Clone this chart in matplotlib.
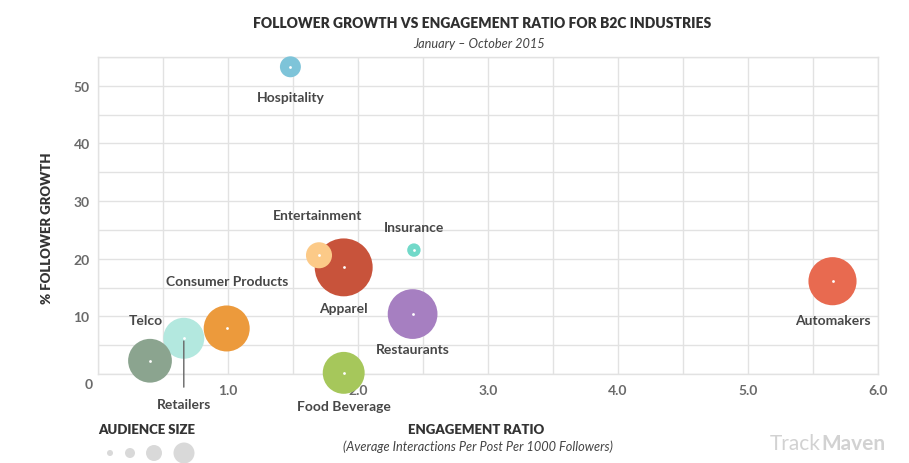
import matplotlib
matplotlib.use("Agg")
import matplotlib.pyplot as plt

plt.rcParams['font.family'] = ['Lato', 'DejaVu Sans']

# ---------------- data ----------------
industries = ["Hospitality", "Apparel", "Entertainment", "Insurance", "Consumer Products",
              "Restaurants", "Retailers", "Telco", "Food Beverage", "Automakers"]
engagement = [1.48, 1.89, 1.70, 2.43, 0.99, 2.42, 0.66, 0.40, 1.89, 5.65]
growth = [53.3, 18.5, 20.6, 21.5, 7.9, 10.4, 6.2, 2.3, 0.2, 16.1]
audience = [11, 84, 17, 4.5, 53, 62, 42, 48, 44, 58]   # relative audience size (bubble area)
colors = ["#7ec4d9", "#c8533b", "#fcca88", "#72d9c9", "#ec9a3c",
          "#a67fc1", "#b3e8df", "#8ba48f", "#a6c75b", "#e86a50"]

x_ticks = [1, 2, 3, 4, 5, 6]
x_ticklabels = ["1.0", "2.0", "3.0", "4.0", "5.0", "6.0"]
y_ticks = [10, 20, 30, 40, 50]
y_ticklabels = ["10", "20", "30", "40", "50"]

# label offsets (points) relative to bubble centre
label_offsets = {
    "Hospitality": (0, -21.5), "Entertainment": (-1, 29), "Insurance": (0, 16.5),
    "Consumer Products": (0, 34.5), "Telco": (-3, 29.5), "Apparel": (0, -29.5),
    "Restaurants": (0, -25), "Retailers": (0, -47.5), "Food Beverage": (0, -24),
    "Automakers": (0, -28),
}

W, H = 909, 464
fig = plt.figure(figsize=(W / 100, H / 100), dpi=100)
fig.patch.set_facecolor("white")
ax = fig.add_axes([98 / W, 1 - 375 / H, (878 - 98) / W, (375 - 58) / H])
ax.set_xlim(0, 6)
ax.set_ylim(0, 55)

grid_c = "#e2e2e2"
ax.set_xticks([i * 0.5 for i in range(13)], minor=True)
ax.set_yticks([i * 5 for i in range(12)], minor=True)
for s in ax.spines.values():
    s.set_color(grid_c)
    s.set_linewidth(1)
ax.set_axisbelow(True)

ax.set_xticks(x_ticks)
ax.set_xticklabels(x_ticklabels)
ax.set_yticks(y_ticks)
ax.set_yticklabels(y_ticklabels)
ax.grid(True, which="both", color=grid_c, lw=1, zorder=0)
ax.tick_params(which="both", length=0)
ax.tick_params(axis="x", pad=7, labelsize=10, labelcolor="#6a6a6a")
ax.tick_params(axis="y", pad=6, labelsize=10, labelcolor="#6a6a6a")
for t in ax.get_xticklabels() + ax.get_yticklabels():
    t.set_fontweight("bold")
ax.annotate("0", xy=(0, 0), xytext=(-7, -7), textcoords="offset points",
            ha="center", va="center", fontsize=10, color="#6a6a6a",
            fontweight="bold", annotation_clip=False)

sizes = [a * 20.7 for a in audience]
ax.scatter(engagement, growth, s=sizes, c=colors, linewidths=0, zorder=3, clip_on=False)
ax.scatter(engagement, growth, s=4, c="white", linewidths=0, zorder=4, clip_on=False)

for name, xv, yv in zip(industries, engagement, growth):
    dx, dy = label_offsets[name]
    kw = {}
    if name == "Retailers":
        kw = dict(arrowprops=dict(arrowstyle="-", color="#666666", lw=1,
                                  shrinkA=6, shrinkB=2))
    ax.annotate(name, xy=(xv, yv), xytext=(dx, dy), textcoords="offset points",
                ha="center", va="center", fontsize=10, color="#474747",
                fontweight="bold", annotation_clip=False, zorder=5, **kw)

# titles
fig.text(482 / W, 1 - 24 / H, "FOLLOWER GROWTH VS ENGAGEMENT RATIO FOR B2C INDUSTRIES",
         ha="center", va="center", fontsize=10, fontweight="heavy", color="#2f2f2f")
fig.text(479 / W, 1 - 44 / H, "January – October 2015", ha="center", va="center",
         fontsize=9.2, style="italic", color="#444444")

fig.text(47 / W, 1 - 228 / H, "% FOLLOWER GROWTH", rotation=90, ha="center", va="center",
         fontsize=9.5, fontweight="heavy", color="#333333")
fig.text(476 / W, 1 - 430 / H, "ENGAGEMENT RATIO", ha="center", va="center",
         fontsize=9.5, fontweight="heavy", color="#333333")
fig.text(478 / W, 1 - 447 / H, "(Average Interactions Per Post Per 1000 Followers)",
         ha="center", va="center", fontsize=9.2, style="italic", color="#444444")

fig.text(147 / W, 1 - 430 / H, "AUDIENCE SIZE", ha="center", va="center",
         fontsize=9.5, fontweight="heavy", color="#333333")

# audience size legend
lax = fig.add_axes([0, 0, 1, 1], zorder=-1)
lax.set_xlim(0, W)
lax.set_ylim(H, 0)
lax.axis("off")
lax.scatter([110, 130, 154, 184], [454, 454, 454, 454],
            s=[(1.44 * r) ** 2 for r in [3, 5, 8, 10.5]], c="#d9d9d9", linewidths=0)

# logo
fig.text(821 / W, 1 - 444 / H, "Track", ha="right", va="center", fontsize=15,
         fontweight="normal", color="#d2d2d2")
fig.text(821 / W, 1 - 444 / H, "Maven", ha="left", va="center", fontsize=15,
         fontweight="bold", color="#d2d2d2")

fig.savefig("out.png", dpi=100, facecolor="white")
